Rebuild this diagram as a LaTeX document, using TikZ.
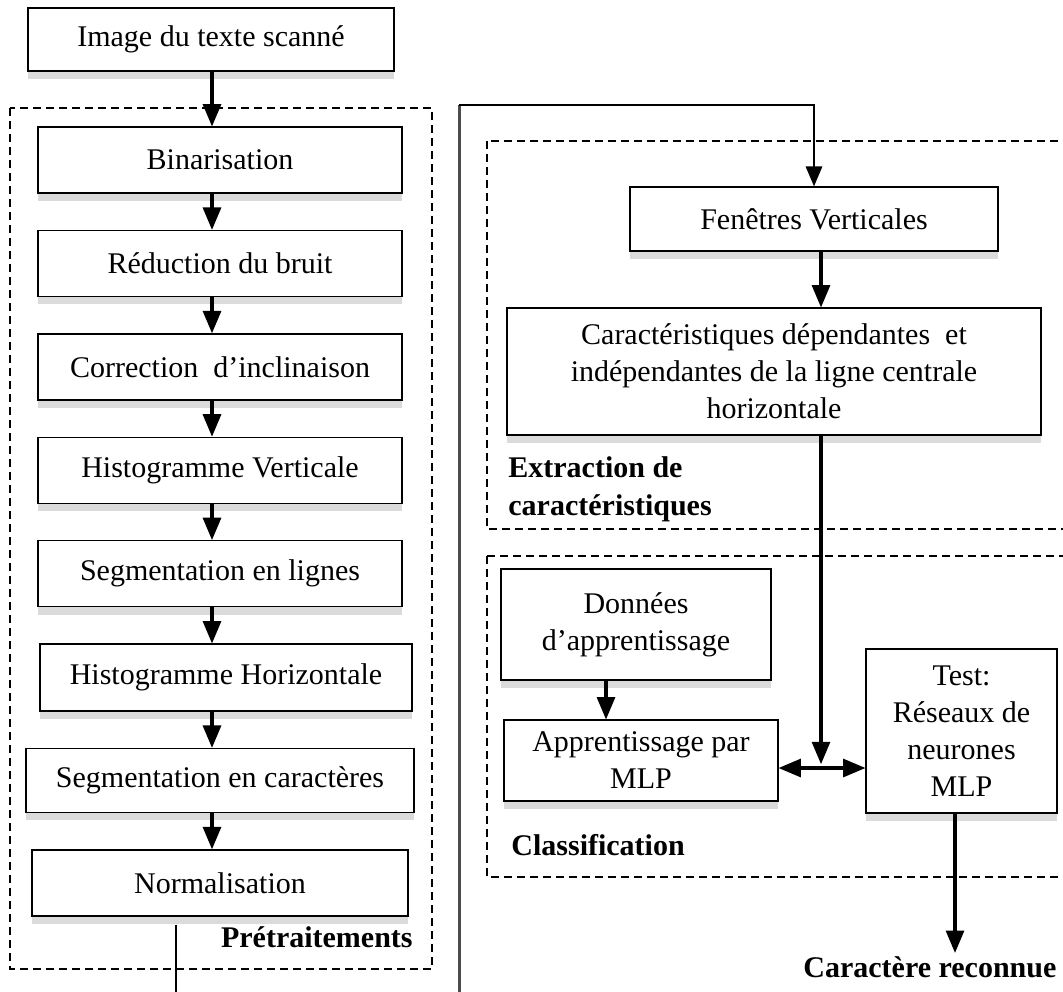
\documentclass[tikz,border=0pt]{standalone}
\usepackage{fontspec}
\setmainfont{Liberation Serif}
\usetikzlibrary{arrows,shadows,positioning}

\begin{document}
\begin{tikzpicture}[x=0.5pt,y=-0.5pt,>=triangle 45,node distance=18pt,
  font=\fontsize{15}{18.5}\selectfont]
\tikzstyle{etape}=[draw=black,line width=0.7pt,fill=white,align=center,inner sep=2pt,
  minimum width=182pt,minimum height=33pt,
  drop shadow={shadow xshift=0pt,shadow yshift=-4pt,fill=black!14,opacity=1}]
\tikzstyle{fleche}=[->,line width=1.6pt]
\tikzstyle{cadre}=[draw,line width=0.6pt,dash pattern=on 4pt off 2.5pt]
\tikzstyle{titre}=[font=\fontsize{15}{19}\selectfont\bfseries,inner sep=0pt,align=left]
\useasboundingbox (0,0) rectangle (1063,991);
\clip (0,0) rectangle (1063,991);

\draw[cadre] (10,108) rectangle (432,969);
\draw[cadre] (487,141) rectangle (1080,529);
\draw[cadre] (487,556) rectangle (1080,877);

% colonne de gauche
\node[etape,minimum width=183pt,minimum height=31.5pt] (img) at (211,39.5) {Image du texte scanné};
\node[etape] (bin) at (220,160) {Binarisation};
\node[etape][below=of bin] (bruit) {Réduction du bruit};
\node[etape][below=of bruit] (corr) {Correction\ \ d’inclinaison};
\node[etape][below=of corr] (histv) {Histogramme Verticale};
\node[etape][below=of histv] (segl) {Segmentation en lignes};
\node[etape,minimum width=186pt,minimum height=33.5pt][below=of segl,xshift=3pt] (histh) {Histogramme Horizontale};
\node[etape,minimum width=194pt,minimum height=32pt][below=of histh,xshift=-3pt] (segc) {Segmentation en caractères};
\node[etape,minimum width=188pt][below=of segc] (norm) {Normalisation};
\node[titre,anchor=base east] (pretr) at (413,947) {Prétraitements};

% colonne de droite
\node[etape,minimum width=184pt,minimum height=32pt] (fen) at (814,219) {Fenêtres Verticales};
\node[etape,minimum width=267pt,minimum height=63.5pt] (car) at (774,371.5)
  {Caractéristiques dépendantes\ \ et\\indépendantes de la ligne centrale\\horizontale};
\node[titre,anchor=north west] (extr) at (508,456) {Extraction de\\caractéristiques};
\node[etape,minimum width=135pt,minimum height=55.5pt] (don) at (636,624.5) {Données\\d’apprentissage};
\node[etape,minimum width=137pt,minimum height=40.5pt] (app) at (641,760.5) {Apprentissage par\\MLP};
\node[etape,minimum width=95.5pt,minimum height=82pt] (test) at (961.5,731) {Test:\\Réseaux de\\neurones\\MLP};
\node[titre,anchor=base west] (classif) at (511,855) {Classification};
\node[titre,anchor=base west,inner sep=1.5pt] (sortie) at (800,977) {Caractère reconnue};

\coordinate (axe) at (212,0);
\coordinate (basg) at (176,995);
\coordinate (basd) at (459,995);
\coordinate (haut) at (459,105);
\coordinate (axed) at (821,0);
\coordinate (axec) at (606,0);
\coordinate (jonction) at (821,768);
\coordinate (fin) at (955,0);

\foreach \a/\b in {img/bin,bin/bruit,bruit/corr,corr/histv,histv/segl,segl/histh,histh/segc,segc/norm}
  \draw[fleche] (\a.south -| axe) -- (\b.north -| axe);
\draw[line width=0.7pt,shorten <=4pt] (norm.south -| basg) -- (basg);

\draw[line width=1.5pt,black!70] (basd) -- (haut);
\draw[fleche,line width=1.3pt] (haut) -| (fen.north);
\draw[fleche] (fen.south -| axed) -- (car.north -| axed);
\draw[fleche,shorten >=2pt] (car.south -| axed) -- (jonction);
\draw[fleche,<->] (app.east |- jonction) -- (test.west |- jonction);
\draw[fleche] (don.south -| axec) -- (app.north -| axec);
\draw[fleche] (test.south -| fin) -- (sortie.north -| fin);
\end{tikzpicture}
\end{document}
